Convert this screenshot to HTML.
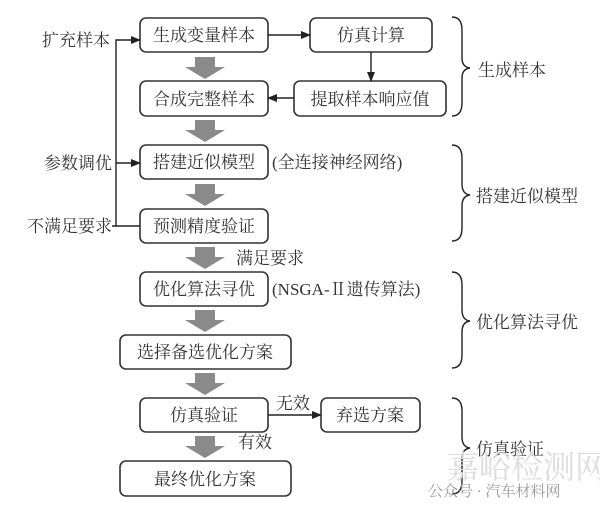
<!DOCTYPE html>
<html><head><meta charset="utf-8"><style>
html,body{margin:0;padding:0;background:#fff;}
svg text{font-family:"Liberation Serif","Noto Serif CJK SC","Noto Sans CJK SC",serif;fill:#333;}
</style></head><body>
<svg width="600" height="514" viewBox="0 0 600 514" xmlns="http://www.w3.org/2000/svg">
<defs>
<marker id="ah" markerWidth="10" markerHeight="8" refX="9" refY="4" orient="auto" markerUnits="userSpaceOnUse"><path d="M0,0 L10,4 L0,8 z" fill="#222"/></marker>
<g id="ga"><path d="M-10,0 H10 V10 H20 L0,22 L-20,10 H-10 Z" fill="#8a8a8a"/></g>
</defs>
<g fill="none" stroke="#333" stroke-width="1.6">
<rect x="140" y="18" width="128" height="34" rx="6"/>
<rect x="310" y="18" width="122" height="34" rx="6"/>
<rect x="140" y="81" width="128" height="35" rx="6"/>
<rect x="294" y="81" width="152" height="35" rx="6"/>
<rect x="140" y="145" width="128" height="34" rx="6"/>
<rect x="140" y="209" width="128" height="34" rx="6"/>
<rect x="140" y="272" width="128" height="34" rx="6"/>
<rect x="120" y="335" width="171" height="34" rx="6"/>
<rect x="140" y="398" width="128" height="34" rx="6"/>
<rect x="321" y="398" width="99" height="34" rx="6"/>
<rect x="120" y="461" width="171" height="35" rx="6"/>
</g>
<g stroke="#222" stroke-width="1.4" fill="none">
<line x1="268" y1="35" x2="310" y2="35" marker-end="url(#ah)"/>
<line x1="371" y1="52" x2="371" y2="81" marker-end="url(#ah)"/>
<line x1="294" y1="98" x2="268" y2="98" marker-end="url(#ah)"/>
<path d="M112,226 H116 V40 H140" marker-end="url(#ah)"/>
<line x1="116" y1="163" x2="140" y2="163" marker-end="url(#ah)"/>
<path d="M116,226 H140"/>
<line x1="268" y1="415" x2="321" y2="415" marker-end="url(#ah)"/>
<path d="M452,17 Q462,17 462,30 V58 Q462,67 470,68 Q462,69 462,78 V103 Q462,116 452,116"/>
<path d="M452,145 Q462,145 462,158 V184 Q462,194 470,195 Q462,196 462,206 V228 Q462,241 452,241"/>
<path d="M452,272 Q462,272 462,285 V310 Q462,320 470,321 Q462,322 462,332 V355 Q462,368 452,368"/>
<path d="M452,398 Q462,398 462,411 V437 Q462,447 470,448 Q462,449 462,459 V481 Q462,494 452,494"/>
</g>
<use href="#ga" x="205" y="57"/>
<use href="#ga" x="205" y="120"/>
<use href="#ga" x="205" y="184"/>
<use href="#ga" x="205" y="247"/>
<use href="#ga" x="205" y="310"/>
<use href="#ga" x="205" y="373"/>
<use href="#ga" x="205" y="436"/>
<g font-size="17" text-anchor="middle">
<text x="204" y="41">生成变量样本</text>
<text x="371" y="41">仿真计算</text>
<text x="204" y="105">合成完整样本</text>
<text x="370" y="105">提取样本响应值</text>
<text x="204" y="168">搭建近似模型</text>
<text x="204" y="232">预测精度验证</text>
<text x="204" y="295">优化算法寻优</text>
<text x="205" y="358">选择备选优化方案</text>
<text x="204" y="421">仿真验证</text>
<text x="370" y="421">弃选方案</text>
<text x="205" y="485">最终优化方案</text>
</g>
<g font-size="17">
<text x="272" y="168">(全连接神经网络)</text>
<text x="272" y="295">(NSGA-Ⅱ遗传算法)</text>
<text x="42" y="46">扩充样本</text>
<text x="44" y="169">参数调优</text>
<text x="27" y="232">不满足要求</text>
<text x="236" y="264">满足要求</text>
<text x="276" y="409">无效</text>
<text x="238" y="448">有效</text>
<text x="478" y="76">生成样本</text>
<text x="476" y="202">搭建近似模型</text>
<text x="476" y="328">优化算法寻优</text>
<text x="476" y="455">仿真验证</text>
</g>
<text x="447" y="478" font-size="32" fill="#ddd" style="fill:#ddd">嘉峪检测网</text>
<text x="428" y="496" font-size="15" style="fill:#999">公众号 · 汽车材料网</text>
</svg>
</body></html>
